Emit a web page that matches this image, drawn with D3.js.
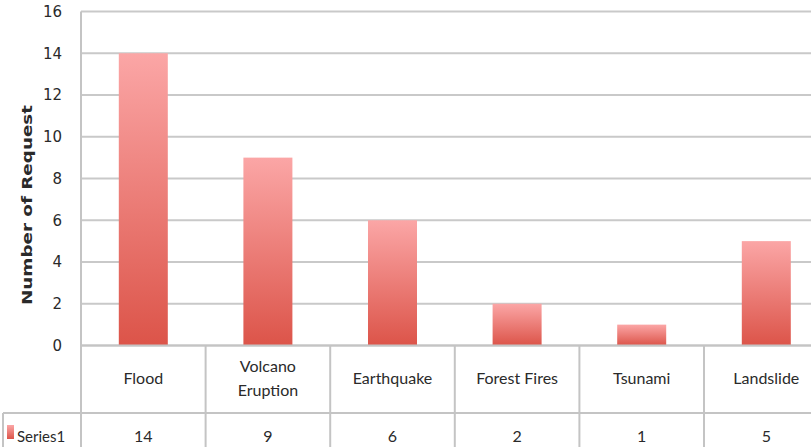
<!DOCTYPE html>
<html>
<head>
<meta charset="utf-8">
<script src="https://cdn.jsdelivr.net/npm/d3@7"></script>
<style>
	body { margin: 0; background: #fff; }
	svg text { font-family: Lato, "Open Sans", sans-serif; fill: #2a2a2a; }
</style>
</head>
<body>
<div id="chart"></div>
<script>
var categories = ['Flood', 'Volcano Eruption', 'Earthquake', 'Forest Fires', 'Tsunami', 'Landslide'];
var series1 = [14, 9, 6, 2, 1, 5];
var yTicks = [0, 2, 4, 6, 8, 10, 12, 14, 16];
var seriesName = 'Series1';

var W = 811, H = 447;
var plotLeft = 81, plotTop = 11.5, zeroY = 345.5;
var bandW = 124.6;
var rowSplit = 413;

var svg = d3.select('#chart').append('svg').attr('width', W).attr('height', H);

var defs = svg.append('defs');
var grad = defs.append('linearGradient').attr('id', 'barGrad')
	.attr('x1', 0).attr('y1', 0).attr('x2', 0).attr('y2', 1);
grad.append('stop').attr('offset', '0%').attr('stop-color', '#fba6a6');
grad.append('stop').attr('offset', '100%').attr('stop-color', '#dc5449');

var x = d3.scaleBand().domain(categories)
	.range([plotLeft, plotLeft + bandW * categories.length])
	.paddingInner(0).paddingOuter(0);

var y = d3.scaleLinear().domain([0, 16]).range([zeroY, plotTop]);

// gridlines
svg.append('g').selectAll('line').data(yTicks).enter().append('line')
	.attr('x1', plotLeft).attr('x2', W)
	.attr('y1', d => y(d)).attr('y2', d => y(d))
	.attr('stroke', '#c9c9c9').attr('stroke-width', 2);

// y axis
var yAxis = svg.append('g').attr('transform', 'translate(' + plotLeft + ',0)')
	.call(d3.axisLeft(y).tickValues(yTicks).tickSize(0).tickPadding(19));
yAxis.select('.domain').remove();
yAxis.selectAll('text').style('font-family', '"DejaVu Sans", sans-serif')
	.style('font-size', '15px').attr('fill', '#333');

// y title
svg.append('text')
	.attr('transform', 'translate(32,' + 205 + ') rotate(-90)')
	.attr('text-anchor', 'middle')
	.attr('textLength', 200).attr('lengthAdjust', 'spacingAndGlyphs')
	.style('font-family', '"DejaVu Sans", sans-serif')
	.style('font-weight', 'bold').style('font-size', '14px')
	.text('Number of Request');

// bars
var barW = 49;
svg.append('g').selectAll('rect').data(series1).enter().append('rect')
	.attr('x', (d, i) => x(categories[i]) + x.bandwidth() / 2 - barW / 2)
	.attr('y', d => y(d))
	.attr('width', barW)
	.attr('height', d => zeroY - y(d))
	.attr('fill', 'url(#barGrad)');

// table lines
var tbl = svg.append('g').attr('stroke', '#c4c4c4').attr('stroke-width', 2);
tbl.append('line').attr('x1', plotLeft).attr('x2', plotLeft).attr('y1', plotTop).attr('y2', H);
tbl.append('line').attr('x1', plotLeft).attr('x2', W).attr('y1', zeroY).attr('y2', zeroY);
tbl.append('line').attr('x1', 3).attr('x2', W).attr('y1', rowSplit).attr('y2', rowSplit);
tbl.append('line').attr('x1', 3).attr('x2', 3).attr('y1', rowSplit).attr('y2', H);
tbl.selectAll('.sep').data(categories.slice(1)).enter().append('line')
	.attr('x1', d => x(d)).attr('x2', d => x(d))
	.attr('y1', zeroY).attr('y2', H);

// category labels
var cy = (zeroY + rowSplit) / 2;
var labels = svg.append('g').selectAll('text').data(categories).enter().append('text')
	.attr('x', d => x(d) + x.bandwidth() / 2)
	.attr('text-anchor', 'middle')
	.style('font-size', '16px');
labels.each(function(d) {
	var t = d3.select(this);
	if (d == 'Volcano Eruption') {
		t.attr('y', cy - 7);
		d.split(' ').forEach(function(w, k) {
			t.append('tspan').attr('x', x(d) + x.bandwidth() / 2)
				.attr('dy', k == 0 ? 0 : 24).text(w);
		});
	} else {
		t.attr('y', cy + 5).text(d);
	}
});

// values row
svg.append('g').selectAll('text').data(series1).enter().append('text')
	.attr('x', (d, i) => x(categories[i]) + x.bandwidth() / 2)
	.attr('y', 442)
	.attr('text-anchor', 'middle')
	.style('font-size', '16px')
	.text(d => d);

// legend key
svg.append('rect').attr('x', 7).attr('y', 425).attr('width', 7).attr('height', 14)
	.attr('fill', 'url(#barGrad)');
svg.append('text').attr('x', 17).attr('y', 442).style('font-size', '15px').text(seriesName);
</script>
</body>
</html>
